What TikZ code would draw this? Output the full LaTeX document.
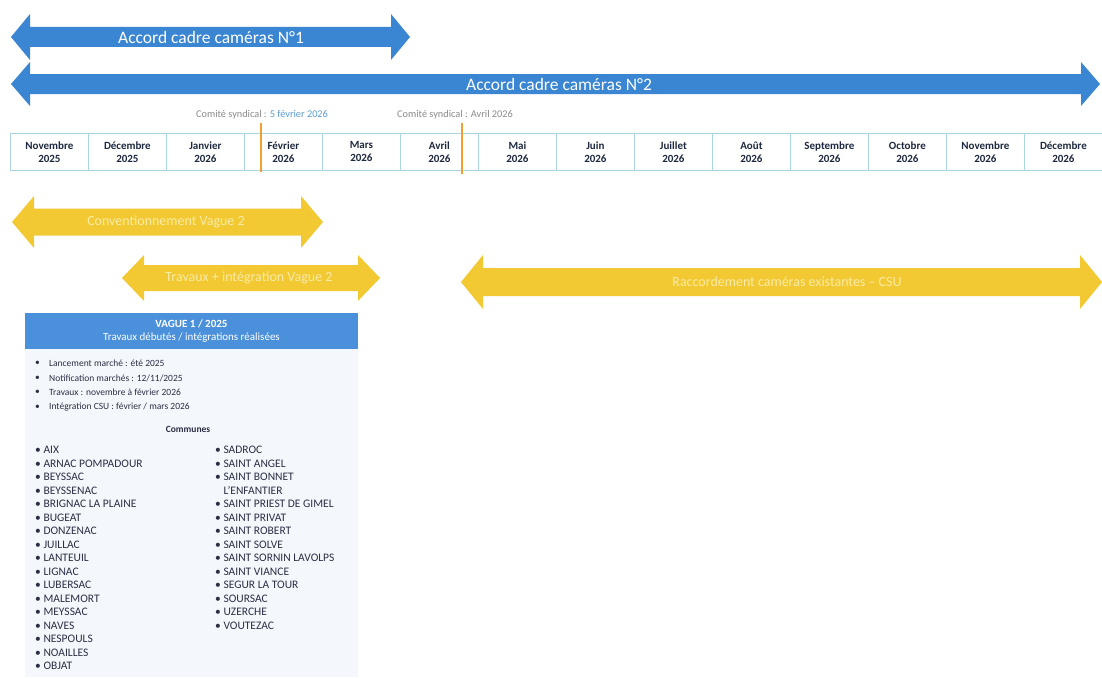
\documentclass[tikz,border=0pt]{standalone}
\usepackage{fontspec}
\setmainfont{Carlito}
\begin{document}
\begin{tikzpicture}[x=1pt,y=-1pt,
  monthbox/.style={draw=boxline, line width=0.8pt, minimum width=78pt, minimum height=37pt, inner sep=0pt, anchor=north west,
    align=center, font=\fontsize{11}{13}\selectfont\bfseries, text=monthtxt},
  arrowtxt/.style={font=\fontsize{17.5}{17.5}\selectfont, text=white, inner sep=0pt},
  yarrowtxt/.style={font=\fontsize{14}{14}\selectfont, text=ytxt, inner sep=0pt},
  milestone/.style={font=\fontsize{10.3}{11}\selectfont, text=mstgray, inner sep=0pt},
  orangeline/.style={draw=orangec, line width=1.5pt},
  bullettxt/.style={font=\fontsize{9.5}{10}\selectfont, text=listtxt, inner sep=0pt, anchor=west},
  communelist/.style={font=\fontsize{11.5}{13.5}\selectfont, text=listtxt, inner sep=0pt, anchor=north west, align=left}]
\definecolor{bluearrow}{HTML}{3A86D2}
\definecolor{blueheader}{HTML}{4A90DA}
\definecolor{yellowarrow}{HTML}{F2C933}
\definecolor{ytxt}{HTML}{FAEBA6}
\definecolor{boxline}{HTML}{A9D6E2}
\definecolor{monthtxt}{HTML}{1E2840}
\definecolor{mstgray}{HTML}{8A8A8A}
\definecolor{mstblue}{HTML}{5B9BD5}
\definecolor{orangec}{HTML}{F0A030}
\definecolor{panelbg}{HTML}{F4F7FB}
\definecolor{listtxt}{HTML}{2A2F45}

\newcommand\dblarr[7]{%
  \fill[#7] (#1,#3) -- (#1+#6,#3-#5) -- (#1+#6,#3-#4) -- (#2-#6,#3-#4) -- (#2-#6,#3-#5) -- (#2,#3)
    -- (#2-#6,#3+#5) -- (#2-#6,#3+#4) -- (#1+#6,#3+#4) -- (#1+#6,#3+#5) -- cycle;}

\useasboundingbox (0,0) rectangle (1102,677);
\fill[white] (0,0) rectangle (1102,677);

% blue arrows
\dblarr{11}{410}{37}{10}{23}{19}{bluearrow}
\node[arrowtxt] (acc1) at (211,37) {Accord cadre caméras N°1};
\dblarr{11}{1100}{84}{10}{22}{19}{bluearrow}
\node[arrowtxt] (acc2) at (559,84) {Accord cadre caméras N°2};

% milestones
\node[milestone] (ms1) at (262,115) {Comité syndical : \textcolor{mstblue}{5 février 2026}};
\node[milestone] (ms2) at (455,115) {Comité syndical : Avril 2026};

% timeline
\foreach \i/\m/\y in {0/Novembre/2025,1/Décembre/2025,2/Janvier/2026,3/Février/2026,4/Mars/2026,5/Avril/2026,6/Mai/2026,7/Juin/2026,8/Juillet/2026,9/Août/2026,10/Septembre/2026,11/Octobre/2026,12/Novembre/2026,13/Décembre/2026}{
  \node[monthbox] (m\i) at (10+78*\i,133) {\m\\\y};
}
\coordinate (o1) at (261,172);
\coordinate (o2) at (462,174);
\draw[orangeline] (ms1.south -| o1) ++(0,3) -- (o1);
\draw[orangeline] (ms2.south -| o2) ++(0,3) -- (o2);

% yellow arrows
\dblarr{12}{323}{222}{13.5}{26}{22}{yellowarrow}
\node[yarrowtxt] (y1) at (166,222) {Conventionnement Vague 2};
\dblarr{122}{380}{278}{13}{23}{22}{yellowarrow}
\node[yarrowtxt] (y2) at (249,278) {Travaux + intégration Vague 2};
\dblarr{461}{1102}{282}{14}{27}{22}{yellowarrow}
\node[yarrowtxt] (y3) at (787,282) {Raccordement caméras existantes – CSU};

% panel
\fill[panelbg] (25,349) rectangle (358,677);
\node[fill=blueheader, minimum width=333pt, minimum height=36pt, inner sep=0pt, text=white, align=center,
  font=\fontsize{11}{13.5}\selectfont] (hdr) at (191.5,331) {\textbf{VAGUE 1 / 2025}\\Travaux débutés / intégrations réalisées};

\foreach \t [count=\k] in {Lancement marché : été 2025, Notification marchés : 12/11/2025, Travaux : novembre à février 2026, Intégration CSU : février / mars 2026}{
  \node[bullettxt] (bd\k) at (35,349+14.5*\k) {\textbullet};
  \node[bullettxt] (b\k) at (49,349+14.5*\k) {\t};
}
\node[font=\fontsize{9.5}{10}\selectfont\bfseries, text=listtxt, inner sep=0pt] (comm) at (188,429) {Communes};

\node[communelist] (colA) at (35,446) {%
\textbullet\ AIX\\
\textbullet\ ARNAC POMPADOUR\\
\textbullet\ BEYSSAC\\
\textbullet\ BEYSSENAC\\
\textbullet\ BRIGNAC LA PLAINE\\
\textbullet\ BUGEAT\\
\textbullet\ DONZENAC\\
\textbullet\ JUILLAC\\
\textbullet\ LANTEUIL\\
\textbullet\ LIGNAC\\
\textbullet\ LUBERSAC\\
\textbullet\ MALEMORT\\
\textbullet\ MEYSSAC\\
\textbullet\ NAVES\\
\textbullet\ NESPOULS\\
\textbullet\ NOAILLES\\
\textbullet\ OBJAT};
\node[communelist] (colB) at (215,446) {%
\textbullet\ SADROC\\
\textbullet\ SAINT ANGEL\\
\textbullet\ SAINT BONNET\\
\phantom{\textbullet\ }L'ENFANTIER\\
\textbullet\ SAINT PRIEST DE GIMEL\\
\textbullet\ SAINT PRIVAT\\
\textbullet\ SAINT ROBERT\\
\textbullet\ SAINT SOLVE\\
\textbullet\ SAINT SORNIN LAVOLPS\\
\textbullet\ SAINT VIANCE\\
\textbullet\ SEGUR LA TOUR\\
\textbullet\ SOURSAC\\
\textbullet\ UZERCHE\\
\textbullet\ VOUTEZAC};
\end{tikzpicture}
\end{document}
